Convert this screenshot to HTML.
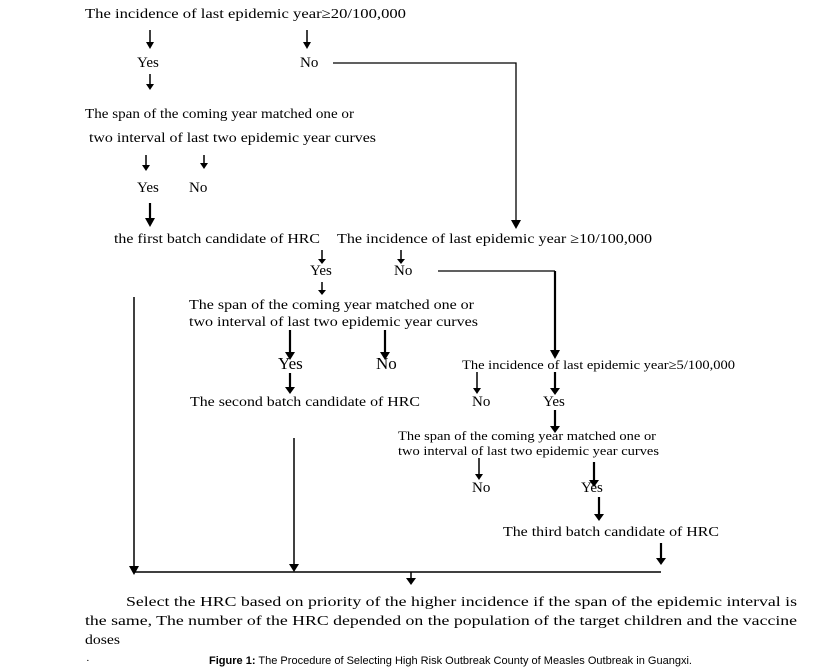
<!DOCTYPE html>
<html><head><meta charset="utf-8"><style>
html,body{margin:0;padding:0;background:#fff;}
svg{display:block;}
text{font-family:"Liberation Serif",serif;fill:#000;}
</style></head><body>
<svg width="816" height="670" viewBox="0 0 816 670" xmlns="http://www.w3.org/2000/svg">
<g stroke="#000" fill="none">
<path stroke-width="1.5" d="M150 30V42 M307 30V42 M150 74V84 M146 155V165 M204 155V163 M322 250V259 M401 250V259 M322 282V290 M477 372V388 M479 458V474"/>
<path stroke-width="2.2" d="M150 203V218 M290 330V352 M385 330V352 M290 373V387 M555 372V388 M555 410V426 M594 462V480 M599 497V514 M661 543V558"/>
<path stroke-width="1.3" d="M333 63H516V220 M438 271H555"/>
<path stroke-width="2.2" d="M555 271V350"/>
<path stroke-width="1.5" d="M134 297V566 M294 438V564 M134 572H661 M411 572V578"/>
</g>
<g fill="#000">
<path d="M146 42h8l-4 7z M303 42h8l-4 7z M146 84h8l-4 6z M142 165h8l-4 6z M200 163h8l-4 6z M318 259h8l-4 5z M397 259h8l-4 5z M318 290h8l-4 5z M473 388h8l-4 6z M475 474h8l-4 6z"/>
<path d="M145 218h10l-5 9z M285 352h10l-5 8z M380 352h10l-5 8z M285 387h10l-5 7z M550 388h10l-5 7z M550 426h10l-5 7z M589 480h10l-5 7z M594 514h10l-5 7z M656 558h10l-5 7z M511 220h10l-5 9z M550 350h10l-5 9z"/>
<path d="M129 566h10l-5 9z M289 564h10l-5 8z M406 578h10l-5 7z"/>
</g>
<g font-size="14">
<text x="85" y="18" textLength="321" lengthAdjust="spacingAndGlyphs">The incidence of last epidemic year≥20/100,000</text>
<text x="137" y="67" font-size="15">Yes</text>
<text x="300" y="67" font-size="15">No</text>
<text x="85" y="118" textLength="269" lengthAdjust="spacingAndGlyphs">The span of the coming year matched one or</text>
<text x="89" y="142" textLength="287" lengthAdjust="spacingAndGlyphs">two interval of last two epidemic year curves</text>
<text x="137" y="192" font-size="15">Yes</text>
<text x="189" y="192" font-size="15">No</text>
<text x="114" y="243" textLength="206" lengthAdjust="spacingAndGlyphs">the first batch candidate of HRC</text>
<text x="337" y="243" textLength="315" lengthAdjust="spacingAndGlyphs">The incidence of last epidemic year ≥10/100,000</text>
<text x="310" y="275" font-size="15">Yes</text>
<text x="394" y="275" font-size="15">No</text>
<text x="189" y="309" textLength="285" lengthAdjust="spacingAndGlyphs">The span of the coming year matched one or</text>
<text x="189" y="326" textLength="289" lengthAdjust="spacingAndGlyphs">two interval of last two epidemic year curves</text>
<text x="278" y="369" font-size="17">Yes</text>
<text x="376" y="369" font-size="17">No</text>
<text x="462" y="369" font-size="13" textLength="273" lengthAdjust="spacingAndGlyphs">The incidence of last epidemic year≥5/100,000</text>
<text x="190" y="406" textLength="230" lengthAdjust="spacingAndGlyphs">The second batch candidate of HRC</text>
<text x="472" y="406" font-size="15">No</text>
<text x="543" y="406" font-size="15">Yes</text>
<text x="398" y="440" font-size="13" textLength="258" lengthAdjust="spacingAndGlyphs">The span of the coming year matched one or</text>
<text x="398" y="455" font-size="13" textLength="261" lengthAdjust="spacingAndGlyphs">two interval of last two epidemic year curves</text>
<text x="472" y="492" font-size="15">No</text>
<text x="581" y="492" font-size="15">Yes</text>
<text x="503" y="536" textLength="216" lengthAdjust="spacingAndGlyphs">The third batch candidate of HRC</text>
<text x="126" y="606" textLength="671" lengthAdjust="spacingAndGlyphs">Select the HRC based on priority of the higher incidence if the span of the epidemic interval is</text>
<text x="85" y="625" textLength="712" lengthAdjust="spacingAndGlyphs">the same, The number of the HRC depended on the population of the target children and the vaccine</text>
<text x="85" y="644" textLength="35" lengthAdjust="spacingAndGlyphs">doses</text>
</g>
<text x="86" y="664" font-size="11">·</text>
<text x="209" y="664" font-size="11" style="font-family:'Liberation Sans',sans-serif" textLength="483" lengthAdjust="spacingAndGlyphs"><tspan font-weight="bold">Figure 1:</tspan> The Procedure of Selecting High Risk Outbreak County of Measles Outbreak in Guangxi.</text>
</svg>
</body></html>
